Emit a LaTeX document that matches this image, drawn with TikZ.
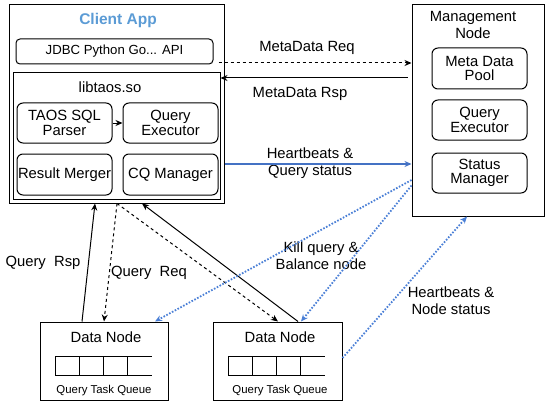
\documentclass[tikz,border=0pt]{standalone}
\usepackage{fontspec}
\setmainfont{Liberation Sans}
\usetikzlibrary{arrows.meta, positioning}
\definecolor{appblue}{HTML}{5B9BD5}
\definecolor{linkblue}{HTML}{4472C4}
\definecolor{dotblue}{HTML}{4A7FD6}

\begin{document}
\begin{tikzpicture}[x=1pt,y=-1pt,node distance=10pt,line width=1pt,
		>={Stealth[length=7pt,width=6pt]},
		font=\fontsize{14.8}{17}\selectfont,
		box/.style={draw,inner sep=0pt},
		part/.style={box,rounded corners=6pt,align=center,minimum width=95pt,minimum height=40pt,
			font=\fontsize{14.8}{14.5}\selectfont},
		lbl/.style={align=center,inner sep=0pt},
		small/.style={font=\fontsize{11.4}{13}\selectfont},
		dotlink/.style={->,dotblue,line width=1.8pt,dash pattern=on 1.6pt off 1.6pt}]
	\useasboundingbox (0,0) rectangle (560,412);
	\node[box,minimum width=215pt,minimum height=198pt] (client) at (116.5,104) {};
	\node[lbl,text=appblue,font=\fontsize{15.5}{18}\selectfont\bfseries] (apptitle) at (118,20) {Client App};
	\node[box,rounded corners=4pt,minimum width=197pt,minimum height=25pt,font=\fontsize{13.2}{15}\selectfont] (api) at (114.5,51.5) {JDBC Python Go... API};
	\node[box,minimum width=207pt,minimum height=126pt] (libtaos) at (116.5,136) {};
	\node[lbl] (libname) at (110,87) {libtaos.so};
	\node[part] (parser) at (64.5,123) {TAOS SQL\\Parser};
	\node[part] (cexec) [right=of parser] {Query\\Executor};
	\node[part,minimum height=41pt] (merger) [below=of parser] {Result Merger};
	\node[part,minimum height=41pt] (cqm) [below=of cexec] {CQ Manager};
	\node[box,minimum width=132pt,minimum height=211pt] (mnode) at (478,110.5) {};
	\node[lbl] (mname) at (473,25) {Management\\Node};
	\node[part,minimum height=41pt] (pool) at (479.5,68.5) {Meta Data\\Pool};
	\node[part] (mexec) [below=of pool] {Query\\Executor};
	\node[part] (status) [below=12pt of mexec] {Status\\Manager};
	\node[box,minimum width=128pt,minimum height=78pt] (dn1) at (104,361) {};
	\node[box,minimum width=129pt,minimum height=78pt] (dn2) at (277.5,361) {};
	\node[lbl] (dn1name) at (106,337) {Data Node};
	\node[lbl] (dn2name) at (280,337) {Data Node};
	\node[lbl,small] (dn1queue) at (104,391) {Query Task Queue};
	\node[lbl,small] (dn2queue) at (280,391) {Query Task Queue};
	\foreach \qx in {55,228} {
		\draw (\qx,356) -- ++(97,0) (\qx,375) -- ++(97,0);
		\foreach \c in {0,...,3}
			\draw (\qx+24.2*\c,356) -- ++(0,19);
	}
	\node[lbl] (reqlbl) at (307,48) {MetaData Req};
	\node[lbl] (rsplbl) at (300,94) {MetaData Rsp};
	\node[lbl] (hblbl) at (310,163.5) {Heartbeats \&\\Query status};
	\node[lbl] (qrsplbl) at (43,263) {Query\ \ Rsp};
	\node[lbl] (qreqlbl) at (149,273) {Query\ \ Req};
	\node[lbl] (killlbl) at (321,255.5) {Kill query \&\\Balance node};
	\node[lbl] (nslbl) at (451,300.5) {Heartbeats \&\\Node status};
	\path[->] (parser) edge (cexec)
		([xshift=5pt,yshift=-11.5pt]api.east) edge[dashed] ([yshift=47.5pt]mnode.west)
		([xshift=-4pt,yshift=32.5pt]mnode.west) edge ([yshift=58pt]libtaos.east)
		([yshift=-60pt]client.east) edge[linkblue,line width=1.6pt] ([yshift=-53.5pt]mnode.west)
		([xshift=-22pt]dn1.north) edge ([xshift=-21.5pt]client.south)
		([xshift=0.5pt]client.south) edge[dashed] (dn1.north)
			edge[dashed] ([xshift=0.5pt]dn2.north)
		([xshift=20.5pt]dn2.north) edge ([xshift=25.5pt]client.south)
		([yshift=-69.5pt]mnode.west) edge[dotlink] ([xshift=51pt]dn1.north)
		([yshift=-75pt]mnode.west) edge[dotlink] ([xshift=23.5pt]dn2.north)
		([yshift=3pt]dn2.east) edge[dotlink] ([xshift=-11pt]mnode.south);
\end{tikzpicture}
\end{document}
